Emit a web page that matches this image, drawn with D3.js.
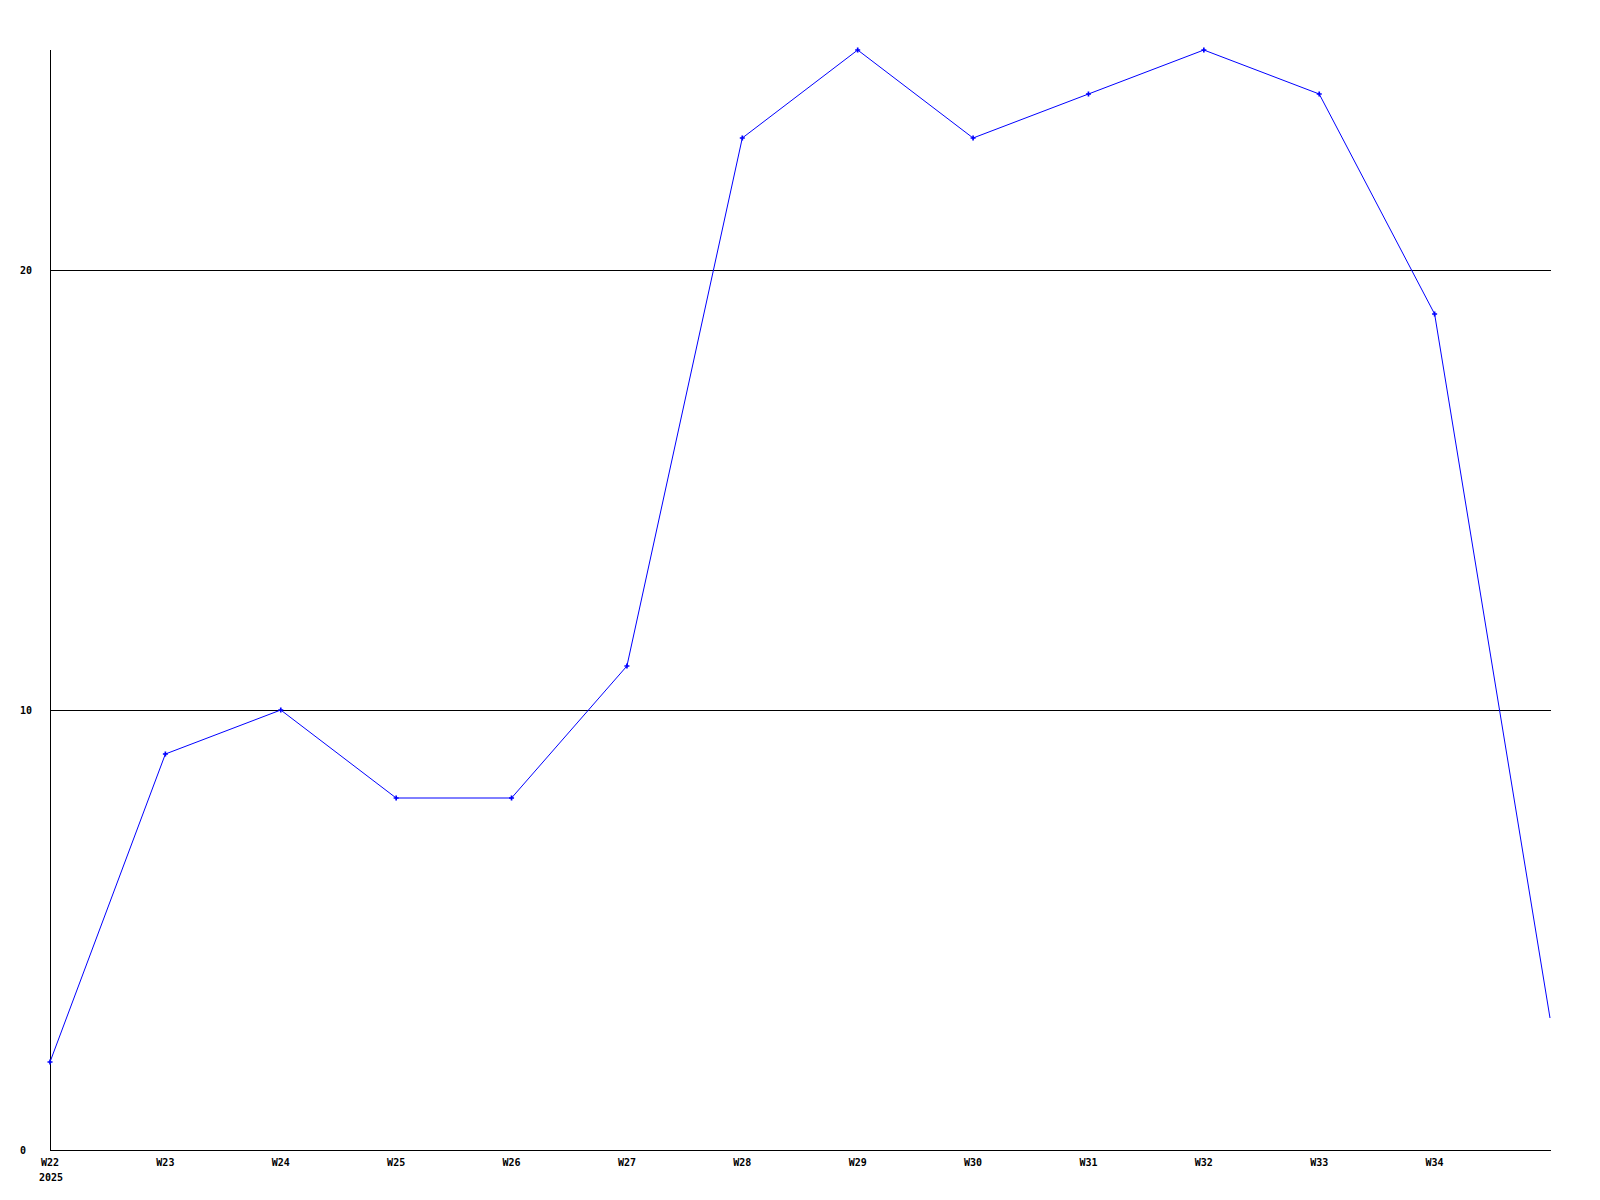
<!DOCTYPE html>
<html><head><meta charset="utf-8">
<script src="https://cdn.jsdelivr.net/npm/d3@7"></script>
<style>body{margin:0;background:#fff}svg{display:block}</style>
</head><body>
<svg id="c" width="1600" height="1200"></svg>
<script>
const weeks = ["W22","W23","W24","W25","W26","W27","W28","W29","W30","W31","W32","W33","W34","W35"];
const values = [2, 9, 10, 8, 8, 11, 23, 25, 23, 24, 25, 24, 19, 3];
const tickLabels = ["W22","W23","W24","W25","W26","W27","W28","W29","W30","W31","W32","W33","W34"];
const yTicks = [0, 10, 20];
const yearLabel = "2025";

const svg = d3.select("#c");
const x = d3.scaleLinear().domain([0, weeks.length - 1]).range([50, 1550]);
const y = d3.scaleLinear().domain([0, 25]).range([1150, 50]);
const font = "'DejaVu Sans Mono', monospace";

// gridlines
svg.append("g").selectAll("line").data(yTicks.filter(d => d > 0)).join("line")
  .attr("x1", 50).attr("x2", 1551)
  .attr("y1", d => Math.round(y(d)) + 0.5).attr("y2", d => Math.round(y(d)) + 0.5)
  .attr("stroke", "#000").attr("stroke-width", 1).attr("shape-rendering", "crispEdges");

// axes
svg.append("line").attr("x1", 50.5).attr("x2", 50.5).attr("y1", 50).attr("y2", 1151)
  .attr("stroke", "#000").attr("shape-rendering", "crispEdges");
svg.append("line").attr("x1", 50).attr("x2", 1551).attr("y1", 1150.5).attr("y2", 1150.5)
  .attr("stroke", "#000").attr("shape-rendering", "crispEdges");

// y labels
svg.append("g").selectAll("text").data(yTicks).join("text")
  .attr("x", 20).attr("y", d => y(d) + 4)
  .attr("font-family", font).attr("font-weight", "bold").attr("font-size", 10)
  .text(d => d);

// x labels
svg.append("g").selectAll("text").data(tickLabels).join("text")
  .attr("x", (d, i) => x(i)).attr("y", 1166)
  .attr("text-anchor", "middle")
  .attr("font-family", font).attr("font-weight", "bold").attr("font-size", 10)
  .text(d => d);
svg.append("text").attr("x", x(0) + 1).attr("y", 1181).attr("text-anchor", "middle")
  .attr("font-family", font).attr("font-weight", "bold").attr("font-size", 10)
  .text(yearLabel);

// line
const line = d3.line().x((d, i) => x(i)).y(d => y(d));
svg.append("path").datum(values).attr("d", line)
  .attr("fill", "none").attr("stroke", "#0000ff").attr("stroke-width", 1);

// markers
const cross = d3.symbol().type(d3.symbolCross).size(14);
svg.append("g").selectAll("path").data(values.slice(0, values.length - 1)).join("path")
  .attr("transform", (d, i) => `translate(${x(i)},${y(d)})`)
  .attr("d", cross).attr("fill", "#0000ff");
</script>
</body></html>
